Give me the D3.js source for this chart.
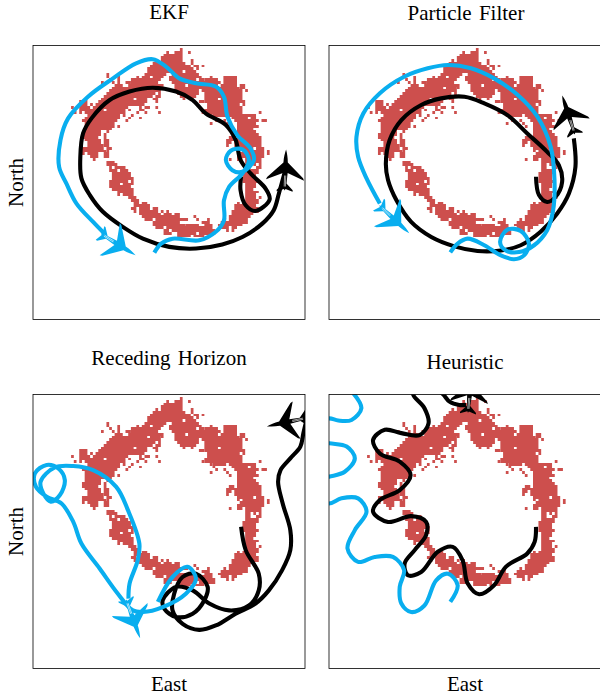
<!DOCTYPE html>
<html><head><meta charset="utf-8">
<script src="https://cdn.jsdelivr.net/npm/d3@7/dist/d3.min.js"></script>
<style>html,body{margin:0;padding:0;background:#fff}svg{display:block}
text{font-family:"Liberation Serif",serif;fill:#000}</style></head><body>
<svg id="c" width="600" height="698"></svg>
<script>
// occupied grid cells: [row from north edge, firstCol, lastCol, firstCol, lastCol, ...]
const occupiedRuns=[
[1,54,54],[2,49,49,52,54,57,57],[3,48,54],[4,47,54],[5,45,45,47,54,58,58],[6,44,55,58,58],[7,43,57,59,60,62,62],
[8,42,58,60,60],[9,42,54,56,59],[10,27,27,41,48,51,60],[11,27,27,31,31,38,38,40,42,44,47,50,61,65,65,70,74],
[12,28,28,31,31,36,46,50,59,61,62,63,67,70,74],[13,25,25,29,29,31,31,34,35,36,45,51,68,70,74],
[14,30,32,35,47,52,55,57,67,69,74,76,77],[15,29,41,43,46,47,47,52,75,76,77],[16,28,46,52,60,62,76,78,78],
[17,27,44,46,46,53,60,63,76],[18,26,43,45,46,54,59,63,76],[19,25,36,38,41,44,45,55,55,58,58,63,67,69,76],
[20,17,19,24,41,45,45,61,62,63,77],[21,17,19,21,21,23,40,64,75,77,77],[22,14,14,17,20,22,34,39,39,41,42,45,45,64,76],
[23,17,25,27,33,35,35,39,40,63,76],[24,15,15,17,17,19,33,38,38,41,41,46,46,62,62,63,76,83,83],
[25,20,31,33,33,36,36,65,65,66,70,72,81],[26,19,31,35,35,39,39,66,66,73,78,80,81],
[27,18,30,34,34,67,67,70,70,74,82,84,85],[28,19,29,65,65,71,71,75,81],[29,19,29,31,31,72,72,75,82],[30,19,28,75,80],
[31,19,24,27,27,75,81],[32,18,24,26,26,75,82],[33,18,23,26,26,72,73,75,83],[34,19,24,26,27,71,83],[35,20,24,26,27,71,72,74,83],
[36,20,25,26,27,71,71,74,83],[37,18,25,27,28,75,80,82,84],[38,18,26,27,27,75,75,77,84,86,86],[39,18,18,20,23,26,27,76,84,86,86],
[40,21,23,26,27,75,84],[41,22,22,72,72,75,76,78,83],[42,27,29,78,83],[43,27,30,78,79,81,81,83,83],[44,28,28,30,33,78,79,82,83],
[45,28,30,32,34,78,82],[46,29,35,77,82],[47,29,35,77,81],[48,29,36,77,81],[49,28,34,36,36,77,82],[50,28,31,33,36,78,81],
[51,28,35,78,81],[52,29,36,78,80],[53,31,36,78,82],[54,31,31,33,36,78,81],[55,35,37,78,81,83,83],[56,36,38,78,82],
[57,37,38,40,41,75,75,77,82],[58,37,42,74,81],[59,36,37,39,42,44,45,74,82],[60,37,37,39,45,47,47,49,49,73,82],
[61,39,46,48,50,52,53,73,80],[62,40,53,59,59,72,79],[63,41,43,45,56,60,60,64,64,70,70,72,78],[64,44,53,62,64,69,78],
[65,44,55,56,60,63,65,68,76],[66,45,47,49,65,69,71,73,74],[67,48,49,51,66,71,71,73,73],[68,48,50,53,59,61,66],[69,53,57,59,62]
];
// trajectories, East / North in percent of the panel
const ekfBlack=[[92.6,53.9],[90.4,46.0],[88.5,39.9],[84.3,35.0],[77.0,30.1],[69.6,27.4],[59.9,25.9],[50.1,26.5],[40.4,29.5],[33.0,33.8],[25.7,39.3],[20.9,45.4],[17.8,51.5],[17.4,59.4],[18.4,67.9],[21.5,73.4],[28.2,80.1],[35.5,83.2],[44.0,84.6],[52.6,83.2],[58.7,80.1],[63.5,75.2],[70.9,71.0],[74.5,65.5],[76.3,58.2],[80.0,53.3],[85.5,47.8],[87.0,43.8],[81.8,39.6],[78.2,41.7],[76.3,47.2],[76.5,52.1]];
const ekfBlue=[[26.3,31.3],[22.1,35.6],[16.0,42.3],[12.3,49.6],[9.6,55.7],[10.1,65.5],[12.9,73.4],[20.2,81.3],[29.4,88.0],[37.9,93.5],[44.0,95.0],[48.9,92.3],[53.8,88.0],[59.9,86.2],[67.2,85.0],[70.2,81.3],[71.5,74.0],[75.1,67.3],[80.0,62.4],[81.2,58.2],[77.0,53.9],[73.3,54.5],[70.9,58.2],[72.7,61.6],[77.0,62.1],[79.4,58.2],[77.0,53.3],[72.1,48.4],[70.2,43.5],[70.2,36.2],[67.2,32.0],[61.1,28.9],[51.3,29.5],[47.1,27.7],[44.6,24.4]];
const pfBlack=[[90.0,66.1],[90.6,55.7],[88.2,46.0],[83.9,38.7],[77.8,32.0],[70.5,27.1],[63.2,25.2],[54.6,25.0],[46.1,26.7],[37.6,30.1],[30.2,35.6],[24.8,43.5],[21.7,50.9],[20.9,56.9],[22.3,65.5],[26.6,72.8],[33.9,78.3],[41.2,80.7],[49.8,81.3],[57.1,78.9],[65.6,74.6],[72.9,67.9],[80.2,61.2],[84.5,56.3],[85.7,50.2],[83.3,44.8],[80.2,42.9],[77.2,45.4],[76.1,52.1]];
const pfBlue=[[18.7,42.3],[13.8,51.5],[10.7,59.4],[10.1,66.7],[12.6,75.2],[18.7,82.6],[27.8,88.7],[36.3,91.7],[43.7,92.9],[52.2,91.7],[60.7,88.0],[69.3,82.0],[76.6,74.0],[81.5,63.0],[82.9,50.9],[82.4,39.9],[80.2,32.6],[75.4,27.1],[69.9,24.6],[65.0,25.2],[62.9,28.3],[65.6,32.8],[70.5,32.3],[73.5,27.7],[71.7,23.4],[68.0,22.0],[63.2,23.4],[57.1,27.1],[51.0,29.5],[47.3,27.7],[44.6,24.5]];
const rhBlack=[[100.5,90.5],[99.4,85.9],[98.3,81.0],[94.6,76.7],[91.0,72.4],[90.1,68.2],[91.8,60.2],[94.6,50.5],[94.6,43.2],[91.6,35.9],[86.7,28.5],[81.8,23.7],[74.5,20.0],[67.2,15.7],[61.1,14.1],[55.0,16.3],[51.3,21.2],[51.9,27.3],[55.0,33.4],[59.9,34.6],[64.2,29.8],[63.0,24.9],[58.7,20.0],[52.6,18.8],[48.3,21.8],[47.7,24.9],[52.6,29.8],[58.7,28.5],[64.8,23.7],[72.1,21.2],[79.4,23.0],[83.0,28.5],[83.0,34.6],[78.2,43.2],[76.5,51.7]];
const rhBlue=[[35.1,25.5],[35.5,31.0],[38.5,39.5],[39.1,45.6],[34.9,57.8],[30.6,66.3],[22.1,72.4],[14.8,73.9],[8.0,73.4],[2.8,68.2],[3.8,63.9],[6.5,60.9],[9.9,63.3],[11.7,68.8],[9.3,73.0],[5.0,74.3],[0.7,71.2],[1.1,66.3],[5.0,62.7],[10.5,60.2],[14.8,53.5],[17.8,45.6],[24.5,36.5],[31.2,27.3],[36.7,21.2],[40.4,20.6],[47.7,22.4],[56.2,27.3],[59.9,32.8],[56.8,37.1],[51.3,33.4],[45.9,24.3]];
const heurBlack=[[50.4,96.2],[47.9,96.2],[44.3,97.4],[41.8,100.2],[37.6,102.7],[32.7,102.7],[30.9,100.2],[35.1,95.0],[36.6,89.5],[33.3,85.2],[26.6,85.9],[20.5,87.1],[16.2,83.4],[18.7,78.5],[26.0,75.5],[30.0,70.6],[26.0,65.1],[18.7,61.5],[16.2,57.2],[21.7,53.5],[30.2,55.6],[35.7,53.5],[35.7,48.7],[31.5,43.2],[27.8,38.3],[29.0,34.0],[33.9,35.2],[40.0,42.6],[45.5,44.4],[49.1,39.5],[51.0,31.0],[55.2,27.1],[60.7,30.4],[65.0,37.1],[72.9,42.0],[75.6,46.2],[76.1,51.7]];
const heurBlue=[[8.9,100.5],[11.9,95.0],[8.3,90.7],[3.4,90.5],[0.0,91.3],[-6.3,89.5],[-6.3,83.4],[0,82.2],[6.5,81.0],[9.5,76.7],[5.8,71.8],[0,70.0],[-5.1,68.8],[-5.1,62.1],[0,60.2],[4.6,62.1],[10.7,62.1],[13.8,57.2],[9.5,50.5],[6.8,43.8],[10.7,38.9],[16.8,40.7],[23.5,40.7],[27.6,35.9],[26.0,29.8],[26.6,23.7],[30.2,20.6],[35.1,23.0],[39.4,32.2],[43.7,34.6],[47.3,30.4],[44.6,24.3]];
// aircraft: East, North, heading (deg clockwise from north)
const ekfPlanes=[[92.8,55.1,2],[31.8,27.1,122]];
const pfPlanes=[[87.9,75.2,-18],[24.4,36.2,133]];
const rhPlanes=[[92.8,89.8,-102],[37,17.6,160]];
const heurPlanes=[[51.8,101.3,5]];
const titles=["EKF","Particle Filter","Receding Horizon","Heuristic"];
const xLabel="East", yLabel="North";

const RED="#cd4f4d",BLUE="#09aeef",W=272,H=274;
const svg=d3.select("#c");
const panels=[
 {l:33,t:45.5,title:titles[0],ty:19,black:ekfBlack,blue:ekfBlue,planes:ekfPlanes,north:1},
 {l:329,t:45.5,title:titles[1],ty:20,black:pfBlack,blue:pfBlue,planes:pfPlanes},
 {l:33,t:394.5,title:titles[2],ty:365,black:rhBlack,blue:rhBlue,planes:rhPlanes,north:1,east:1},
 {l:329,t:394.5,title:titles[3],ty:369,black:heurBlack,blue:heurBlue,planes:heurPlanes,east:1}];
const planePath="M0,-19 C1.2,-15 2,-11 2.2,-6 L18,9 L19,11.5 L2.4,4.5 L1.6,15 L8,21.5 L8,23 L0.8,20.5 L0,22 L-0.8,20.5 L-8,23 L-8,21.5 L-1.6,15 L-2.4,4.5 L-19,11.5 L-18,9 L-2.2,-6 C-2,-11 -1.2,-15 0,-19Z";
panels.forEach((p,i)=>{
 const x=d3.scaleLinear().domain([0,100]).range([p.l,p.l+W]);
 const y=d3.scaleLinear().domain([0,100]).range([p.t+H,p.t]);
 const cw=W/100,ch=H/100;
 const clip="clip"+i;
 svg.append("clipPath").attr("id",clip).append("rect").attr("x",p.l).attr("y",p.t).attr("width",W).attr("height",H);
 const g=svg.append("g").attr("clip-path",`url(#${clip})`);
 const cells=[];
 occupiedRuns.forEach(r=>{for(let k=1;k<r.length;k+=2)cells.push({row:r[0],a:r[k],b:r[k+1]});});
 g.selectAll("rect.cell").data(cells).join("rect").attr("class","cell")
  .attr("x",d=>x(d.a)).attr("y",d=>Math.round(y(100-d.row))).attr("width",d=>(d.b-d.a+1)*cw).attr("height",d=>Math.round(y(100-d.row-1))-Math.round(y(100-d.row))).attr("fill",RED);
 const line=d3.line().x(d=>x(d[0])).y(d=>y(d[1])).curve(d3.curveCatmullRom.alpha(0.5));
 g.append("path").attr("d",line(p.black)).attr("fill","none").attr("stroke","#000").attr("stroke-width",4.1);
 g.append("path").attr("d",line(p.blue)).attr("fill","none").attr("stroke",BLUE).attr("stroke-width",4.1);
 p.planes.forEach((a,j)=>{
  const c=j==0?"#000":BLUE;
  const t=g.append("g").attr("transform",`translate(${x(a[0])},${y(a[1])}) rotate(${a[2]})`);
  t.append("path").attr("d",planePath).attr("fill",c);
  t.append("path").attr("d","M-0.6,7 L-0.6,18 M0.6,7 L0.6,18").attr("stroke","#fff").attr("stroke-width",0.6);
 });
 svg.append("rect").attr("x",p.l).attr("y",p.t).attr("width",W).attr("height",H).attr("fill","none").attr("stroke","#000").attr("stroke-width",0.8);
 svg.append("text").attr("x",p.l+W/2+(i==1?1:0)).attr("y",p.ty).attr("text-anchor","middle").attr("font-size",21).attr("word-spacing",2).text(p.title);
 if(p.east)svg.append("text").attr("x",p.l+W/2).attr("y",691).attr("text-anchor","middle").attr("font-size",21).text(xLabel);
 if(p.north)svg.append("text").attr("transform",`translate(23,${p.t+137}) rotate(-90)`).attr("text-anchor","middle").attr("font-size",21).text(yLabel);
});
</script></body></html>
